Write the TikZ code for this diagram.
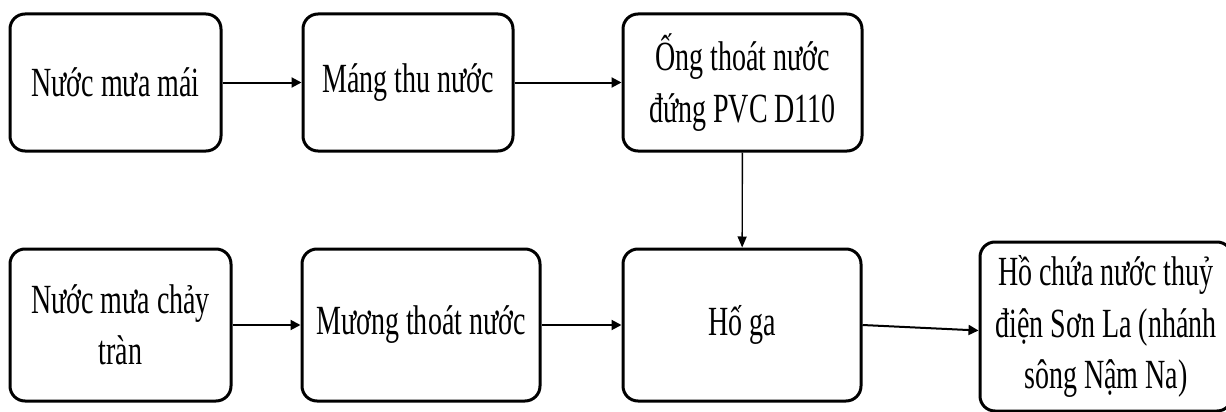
\documentclass[tikz,border=0pt]{standalone}
\usepackage{fontspec}
\setmainfont{Liberation Serif}[FakeStretch=0.675]
\usetikzlibrary{arrows.meta}

\tikzset{
  box/.style={draw, line width=3pt, rounded corners=15pt, align=center,
    inner sep=0pt, font=\fontsize{41.5}{51.5}\selectfont},
  flow/.style={line width=2pt, -{Triangle[length=10pt,width=10pt]}},
  thinflow/.style={line width=1.4pt, -{Triangle[length=11pt,width=9pt]}}
}

\begin{document}
\begin{tikzpicture}[x=1pt,y=-1pt]
  \useasboundingbox (0,0) rectangle (1226,412);

  % upper row: roof drainage
  \node[box, minimum width=211pt, minimum height=137pt] (roof) at (115.5,82.5) {Nước mưa mái};
  \node[box, minimum width=210pt, minimum height=137pt] (gutter) at (408,82.5) {Máng thu nước};
  \node[box, minimum width=239pt, minimum height=137pt] (pipe) at (742.5,82.5) {Ống thoát nước\\đứng PVC D110};

  % lower row: surface runoff
  \node[box, minimum width=221pt, minimum height=152pt] (runoff) at (120.5,325) {Nước mưa chảy\\tràn};
  \node[box, minimum width=238pt, minimum height=152pt] (ditch) at (421,325) {Mương thoát nước};
  \node[box, minimum width=238pt, minimum height=152pt] (pit) at (742,325) {Hố ga};
  \node[box, minimum width=252pt, minimum height=169pt] (lake) at (1106,326.5) {Hồ chứa nước thuỷ\\điện Sơn La (nhánh\\sông Nậm Na)};

  % connectors
  \draw[flow] (roof) -- (gutter);
  \draw[flow] (gutter) -- (pipe);
  \draw[thinflow] (pipe) -- (pit);
  \draw[flow] (runoff) -- (ditch);
  \draw[flow] (ditch) -- (pit);
  \draw[flow] (pit.east) -- ([yshift=-4pt]lake.west);
\end{tikzpicture}
\end{document}
